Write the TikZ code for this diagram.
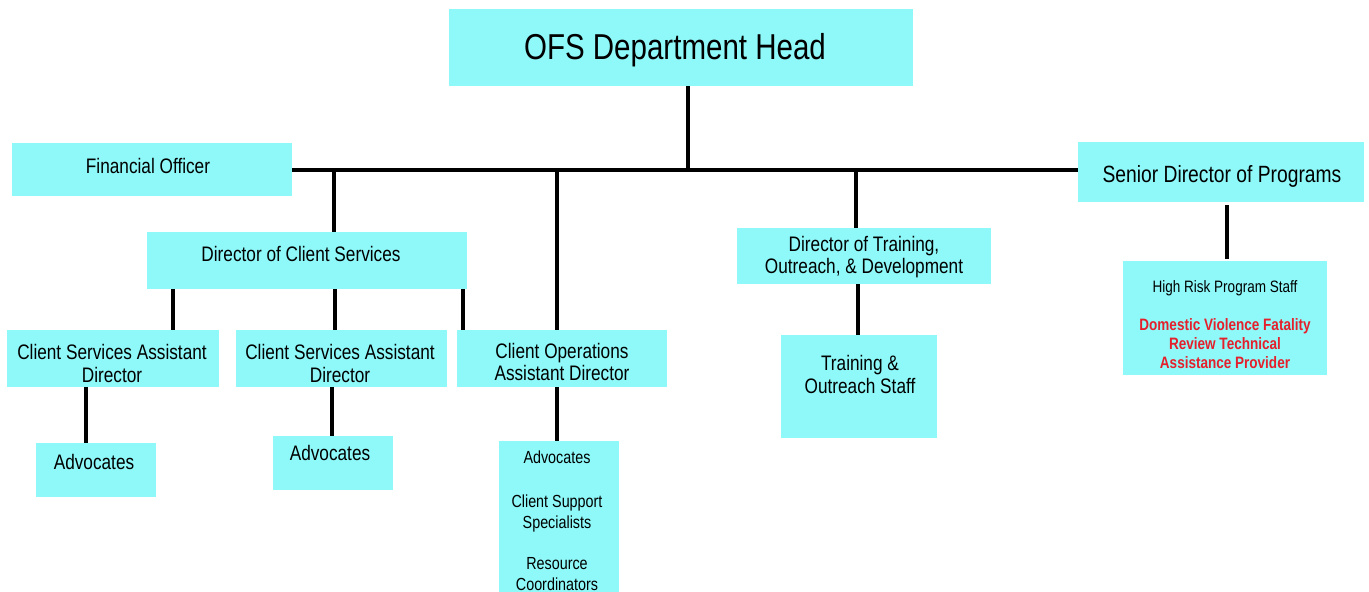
\documentclass[tikz,border=0pt]{standalone}
\usepackage{fontspec}
\setmainfont[FakeStretch=0.82]{Liberation Sans}
\definecolor{boxcyan}{RGB}{143,249,249}
\definecolor{alertred}{RGB}{228,32,44}
\newcommand\obox[5]{\node[orgbox, anchor=north west, minimum width=#4pt, minimum height=#5pt] (#1) at (#2,#3) {};}
\begin{document}
\begin{tikzpicture}[x=1pt,y=-1pt,
  orgbox/.style={fill=boxcyan, draw=none, inner sep=0pt, outer sep=0pt},
  conn/.style={line width=4pt, black},
  txt/.style={inner sep=0pt, align=center, anchor=base, text=black},
  fXL/.style={font=\fontsize{36}{40}\selectfont},
  fL/.style={font=\fontsize{23.5}{26}\selectfont},
  fM/.style={font=\fontsize{21}{23}\selectfont},
  fS/.style={font=\fontsize{17.5}{20.5}\selectfont},
  fXS/.style={font=\fontsize{16.5}{19}\selectfont},
  fRed/.style={font=\fontsize{16.5}{19}\selectfont\bfseries, text=alertred}]
\fill[white] (0,0) rectangle (1369,592);
\useasboundingbox (0,0) rectangle (1369,592);

% boxes
\obox{head}{449}{9}{464}{77}
\obox{fo}{12}{143}{280}{53}
\obox{sd}{1078}{142}{286}{60}
\obox{dcs}{147}{232}{320}{57}
\obox{csad1}{7}{330}{212}{57}
\obox{csad2}{236}{330}{211}{57}
\obox{coad}{457}{330}{210}{57}
\obox{adv1}{36}{443}{120}{54}
\obox{adv2}{273}{436}{120}{54}
\obox{opsstaff}{499}{441}{120}{151}
\obox{dtod}{737}{228}{254}{56}
\obox{tos}{781}{335}{156}{103}
\obox{hr}{1123}{261}{204}{114}

% texts (multi-line nodes: base = baseline of last line)
\node[txt, fXL] (t-head) at (675,59) {OFS Department Head};
\node[txt, fM] (t-fo) at (148,173) {Financial Officer};
\node[txt, fL] (t-sd) at (1222,182) {Senior Director of Programs};
\node[txt, fM] (t-dcs) at (301,261) {Director of Client Services};
\node[txt, fM] (t-csad1) at (112,382) {Client Services Assistant\\Director};
\node[txt, fM] (t-csad2) at (340,382) {Client Services Assistant\\Director};
\node[txt, fM, font=\fontsize{21}{22}\selectfont] (t-coad) at (562,380) {Client Operations\\Assistant Director};
\node[txt, fM] (t-adv1) at (94,469) {Advocates};
\node[txt, fM] (t-adv2) at (330,460) {Advocates};
\node[txt, fS] (t-adv3) at (557,463) {Advocates};
\node[txt, fS] (t-css) at (557,528) {Client Support\\Specialists};
\node[txt, fS] (t-rc) at (557,590) {Resource\\Coordinators};
\node[txt, fM, font=\fontsize{21}{22}\selectfont] (t-dtod) at (864,273) {Director of Training,\\Outreach, \& Development};
\node[txt, fM] (t-tos) at (860,393) {Training \&\\Outreach Staff};
\node[txt, fXS] (t-hr) at (1225,292) {High Risk Program Staff};
\node[txt, fRed] (t-dv) at (1225,368) {Domestic Violence Fatality\\Review Technical\\Assistance Provider};

% connector x positions
\coordinate (xh) at (688,0);
\coordinate (xdcs) at (334,0);
\coordinate (xcoad) at (557,0);
\coordinate (xdtod) at (856,0);
\coordinate (xc1) at (173,0);
\coordinate (xc2) at (335,0);
\coordinate (xc3) at (463,0);
\coordinate (xa1) at (86,0);
\coordinate (xa2) at (332,0);
\coordinate (xa3) at (557,0);
\coordinate (xtos) at (858,0);
\coordinate (xsd) at (1227,0);
\coordinate (hub) at (688,169.5);

% connectors
\draw[conn] (fo.east) -- (sd.west |- fo.east);
\draw[conn] (head.south -| xh) -- (hub);
\draw[conn] (fo.east -| xdcs) -- (dcs.north -| xdcs);
\draw[conn] (fo.east -| xcoad) -- (coad.north -| xcoad);
\draw[conn] (fo.east -| xdtod) -- (dtod.north -| xdtod);
\draw[conn] (dcs.south -| xc1) -- (csad1.north -| xc1);
\draw[conn] (dcs.south -| xc2) -- (csad2.north -| xc2);
\draw[conn] (dcs.south -| xc3) -- (coad.north -| xc3);
\draw[conn] (csad1.south -| xa1) -- (adv1.north -| xa1);
\draw[conn] (csad2.south -| xa2) -- (adv2.north -| xa2);
\draw[conn] (coad.south -| xa3) -- (opsstaff.north -| xa3);
\draw[conn] (dtod.south -| xtos) -- (tos.north -| xtos);
\draw[conn] ([yshift=-3pt]sd.south -| xsd) -- ([yshift=2pt]hr.north -| xsd);
\end{tikzpicture}
\end{document}
